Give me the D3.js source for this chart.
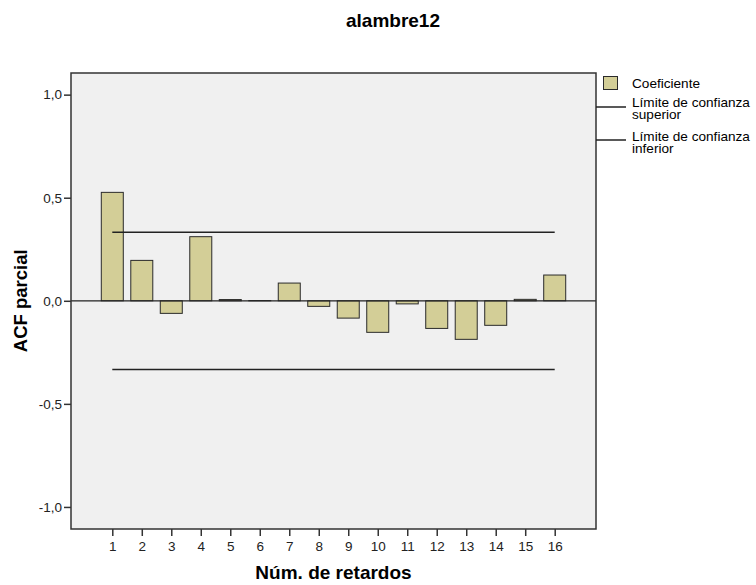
<!DOCTYPE html>
<html>
<head>
<meta charset="utf-8">
<script src="https://cdn.jsdelivr.net/npm/d3@7"></script>
<style>
  body { margin: 0; background: #fff; }
  text { font-family: "Liberation Sans", Arial, sans-serif; }
</style>
</head>
<body>
<div id="wrapper"></div>
<script>
// lags and partial ACF coefficients
var lags = [1,2,3,4,5,6,7,8,9,10,11,12,13,14,15,16];
var coef = [0.526,0.196,-0.061,0.311,0.006,0.001,0.086,-0.027,-0.084,-0.153,-0.015,-0.134,-0.187,-0.119,0.007,0.125];
var upperLimit = [0.333,0.333,0.333,0.333,0.333,0.333,0.333,0.333,0.333,0.333,0.333,0.333,0.333,0.333,0.333,0.333];
var lowerLimit = [-0.333,-0.333,-0.333,-0.333,-0.333,-0.333,-0.333,-0.333,-0.333,-0.333,-0.333,-0.333,-0.333,-0.333,-0.333,-0.333];
var yTicks = [-1.0,-0.5,0.0,0.5,1.0];
var legendItems = ["Coeficiente", "Límite de confianza|superior", "Límite de confianza|inferior"];

var W = 756, H = 585;
var pL = 71, pT = 73, pR = 596, pB = 529;

var svg = d3.select('#wrapper')
  .append('svg')
  .attr('width', W)
  .attr('height', H);

svg.append('rect').attr('width', W).attr('height', H).style('fill', '#fff');

var x = d3.scaleLinear().domain([-0.4, 17.4]).range([pL, pR]);
var y = d3.scaleLinear().domain([-1.107, 1.105]).range([pB, pT]);

// plot background
svg.append('rect')
  .attr('x', pL).attr('y', pT)
  .attr('width', pR - pL).attr('height', pB - pT)
  .style('fill', '#f0f0f0');

// bars
var bw = 22;
svg.selectAll('rect.bar')
  .data(coef)
  .enter()
  .append('rect')
  .attr('class', 'bar')
  .attr('x', function(d, i){ return x(lags[i]) - bw / 2; })
  .attr('y', function(d){ return y(Math.max(0, d)); })
  .attr('width', bw)
  .attr('height', function(d){ return Math.abs(y(d) - y(0)); })
  .style('fill', '#d3ce97')
  .style('stroke', '#2a2a2a')
  .style('stroke-width', 1);

// zero line
svg.append('line')
  .attr('x1', pL).attr('x2', pR)
  .attr('y1', y(0)).attr('y2', y(0))
  .style('stroke', '#222').style('stroke-width', 1.2);

// confidence limits
var lineGen = d3.line()
  .x(function(d, i){ return x(lags[i]); })
  .y(function(d){ return y(d); });

[upperLimit, lowerLimit].forEach(function(arr){
  svg.append('path')
    .datum(arr)
    .attr('d', lineGen)
    .style('fill', 'none')
    .style('stroke', '#222')
    .style('stroke-width', 1.5);
});

// frame
svg.append('rect')
  .attr('x', pL).attr('y', pT)
  .attr('width', pR - pL).attr('height', pB - pT)
  .style('fill', 'none')
  .style('stroke', '#333').style('stroke-width', 1.5);

// axes
var yAxis = d3.axisLeft(y)
  .tickValues(yTicks)
  .tickSize(7)
  .tickPadding(2)
  .tickFormat(function(d){ return d3.format('.1f')(d).replace('.', ',').replace('−', '-'); });

var gy = svg.append('g')
  .attr('transform', 'translate(' + pL + ',0)')
  .call(yAxis);

var xAxis = d3.axisBottom(x)
  .tickValues(lags)
  .tickSize(7)
  .tickPadding(5)
  .tickFormat(d3.format('d'));

var gx = svg.append('g')
  .attr('transform', 'translate(0,' + pB + ')')
  .call(xAxis);

[gx, gy].forEach(function(g){
  g.select('.domain').remove();
  g.selectAll('.tick line').style('stroke', '#333').style('stroke-width', 1.5);
  g.selectAll('.tick text')
    .style('font-family', '"Liberation Sans", Arial, sans-serif')
    .style('font-size', '13.5px')
    .style('fill', '#222');
});

// titles
svg.append('text')
  .attr('x', 393).attr('y', 27)
  .attr('text-anchor', 'middle')
  .style('font-size', '19px').style('font-weight', 'bold')
  .text('alambre12');

svg.append('text')
  .attr('x', (pL + pR) / 2).attr('y', 579)
  .attr('text-anchor', 'middle')
  .style('font-size', '19px').style('font-weight', 'bold')
  .text('Núm. de retardos');

svg.append('text')
  .attr('transform', 'translate(27,' + y(0) + ') rotate(-90)')
  .attr('text-anchor', 'middle')
  .style('font-size', '18.5px').style('font-weight', 'bold')
  .text('ACF parcial');

// legend
var lg = svg.append('g');
lg.append('rect')
  .attr('x', 603.5).attr('y', 76.5)
  .attr('width', 14).attr('height', 13)
  .style('fill', '#d3ce97').style('stroke', '#2a2a2a');

var legendY = [88, 107, 141];
lg.selectAll('text.leg')
  .data(legendItems)
  .enter()
  .append('text')
  .attr('class', 'leg')
  .attr('x', 632)
  .attr('y', function(d, i){ return legendY[i]; })
  .style('font-size', '13.6px')
  .each(function(d){
    var parts = d.split('|');
    var t = d3.select(this);
    parts.forEach(function(p, j){
      t.append('tspan').attr('x', 632).attr('dy', j === 0 ? 0 : 11.5).text(p);
    });
  });

lg.selectAll('line.leg')
  .data([107, 140])
  .enter()
  .append('line')
  .attr('x1', 596).attr('x2', 626)
  .attr('y1', function(d){ return d; }).attr('y2', function(d){ return d; })
  .style('stroke', '#222').style('stroke-width', 1.5);
</script>
</body>
</html>
